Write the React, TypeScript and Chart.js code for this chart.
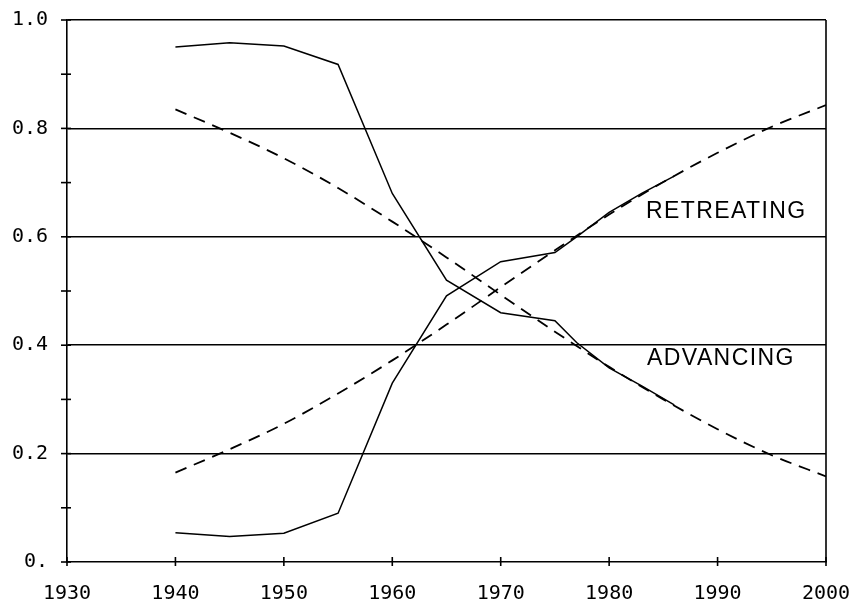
import React, { useEffect, useRef } from "react";
import { Chart, registerables } from "chart.js";

Chart.register(...registerables);

// ---- data ----
const observedYears = [1940, 1945, 1950, 1955, 1960, 1965, 1970, 1975, 1977, 1980, 1983, 1986];
const retreatingObserved = [0.054, 0.047, 0.053, 0.09, 0.33, 0.491, 0.554, 0.571, 0.6, 0.645, 0.68, 0.712];
const advancingObserved = [0.95, 0.958, 0.952, 0.918, 0.68, 0.52, 0.46, 0.445, 0.405, 0.358, 0.325, 0.29];

const fitYears = [1940, 1945, 1950, 1955, 1960, 1965, 1970, 1975, 1980, 1985, 1990, 1995, 2000];
const retreatingFit = [0.165, 0.208, 0.255, 0.311, 0.372, 0.438, 0.507, 0.575, 0.641, 0.701, 0.755, 0.803, 0.843];
const advancingFit = [0.835, 0.792, 0.745, 0.69, 0.628, 0.562, 0.493, 0.425, 0.36, 0.3, 0.245, 0.197, 0.158];

const xTickYears = [1930, 1940, 1950, 1960, 1970, 1980, 1990, 2000];
const yMajorLabels = ["0.", "0.2", "0.4", "0.6", "0.8", "1.0"];

const labelTexts = ["RETREATING", "ADVANCING"];
const labelYears = [1983.4, 1983.5];
const labelValues = [0.646, 0.376];

const X_MIN = 1930;
const X_MAX = 2000;
const Y_MIN = 0;
const Y_MAX = 1;

const toPoints = (xs: number[], ys: number[]) => xs.map((x, i) => ({ x, y: ys[i] }));

const noOverflow = (scale: any) => {
  scale.paddingLeft = 0;
  scale.paddingRight = 0;
  scale.paddingTop = 0;
  scale.paddingBottom = 0;
};

const overlayPlugin = {
  id: "overlay",
  afterDraw(chart: any) {
    const { ctx, scales } = chart;
    const x = scales.x;
    const y = scales.y;
    ctx.save();
    ctx.strokeStyle = "#000";
    ctx.lineWidth = 1.6;
    const seg = (a: number, b: number, c: number, d: number) => {
      ctx.beginPath();
      ctx.moveTo(a, b);
      ctx.lineTo(c, d);
      ctx.stroke();
    };
    // right frame
    const xr = x.getPixelForValue(X_MAX);
    seg(xr, y.getPixelForValue(Y_MIN), xr, y.getPixelForValue(Y_MAX));
    // crossing tick marks
    const x0 = x.getPixelForValue(X_MIN);
    const y0 = y.getPixelForValue(Y_MIN);
    y.ticks.forEach((t: any) => {
      const py = y.getPixelForValue(t.value);
      seg(x0 - 6, py, x0 + 4, py);
    });
    x.ticks.forEach((t: any) => {
      const px = x.getPixelForValue(t.value);
      seg(px, y0 - 5, px, y0 + 4);
    });
    // curve labels
    ctx.fillStyle = "#000";
    ctx.font = "23px 'Liberation Sans'";
    ctx.textAlign = "left";
    ctx.textBaseline = "middle";
    (ctx as any).letterSpacing = "1.4px";
    labelTexts.forEach((txt, i) => {
      ctx.fillText(txt, x.getPixelForValue(labelYears[i]), y.getPixelForValue(labelValues[i]));
    });
    ctx.restore();
  },
};

export default function App() {
  const ref = useRef<HTMLCanvasElement | null>(null);

  useEffect(() => {
    if (!ref.current) return;
    const tickFont = { family: "'DejaVu Sans Mono'", size: 20 };
    const chart = new Chart(ref.current, {
      type: "line",
      data: {
        datasets: [
          {
            data: toPoints(observedYears, retreatingObserved),
            borderColor: "#000",
            borderWidth: 1.5,
            pointRadius: 0,
            tension: 0,
          },
          {
            data: toPoints(observedYears, advancingObserved),
            borderColor: "#000",
            borderWidth: 1.5,
            pointRadius: 0,
            tension: 0,
          },
          {
            data: toPoints(fitYears, retreatingFit),
            borderColor: "#000",
            borderWidth: 1.8,
            borderDash: [12, 8],
            pointRadius: 0,
            cubicInterpolationMode: "monotone",
          },
          {
            data: toPoints(fitYears, advancingFit),
            borderColor: "#000",
            borderWidth: 1.8,
            borderDash: [12, 8],
            pointRadius: 0,
            cubicInterpolationMode: "monotone",
          },
        ],
      },
      options: {
        animation: false,
        responsive: false,
        layout: { padding: { top: 20, right: 30, left: 0, bottom: 0 } },
        plugins: { legend: { display: false }, tooltip: { enabled: false } },
        scales: {
          x: {
            type: "linear",
            min: X_MIN,
            max: X_MAX,
            afterBuildTicks: (scale: any) => {
              scale.ticks = xTickYears.map((v) => ({ value: v }));
            },
            afterFit: (scale: any) => {
              scale.height = 42;
              noOverflow(scale);
            },
            grid: { drawOnChartArea: false, drawTicks: false },
            border: { display: true, color: "#000", width: 1.6 },
            ticks: {
              autoSkip: false,
              maxRotation: 0,
              padding: 20,
              color: "#000",
              font: tickFont,
              callback: (v: any) => String(v),
            },
          },
          y: {
            type: "linear",
            min: Y_MIN,
            max: Y_MAX,
            afterFit: (scale: any) => {
              scale.width = 67;
              noOverflow(scale);
            },
            grid: {
              drawTicks: false,
              lineWidth: 1.6,
              color: (c: any) => {
                const r = Math.round((c.tick?.value ?? 0) * 10);
                return r > 0 && r % 2 === 0 ? "#000" : "rgba(0,0,0,0)";
              },
            },
            border: { display: true, color: "#000", width: 1.6 },
            ticks: {
              stepSize: 0.1,
              autoSkip: false,
              padding: 19,
              color: "#000",
              font: tickFont,
              callback: (v: any) => {
                const r = Math.round(Number(v) * 10);
                return r % 2 === 0 ? yMajorLabels[r / 2] : "";
              },
            },
          },
        },
      },
      plugins: [overlayPlugin],
    } as any);
    return () => chart.destroy();
  }, []);

  return (
    <div style={{ position: "fixed", left: 0, top: 0, width: 856, height: 604, background: "#fff" }}>
      <canvas ref={ref} width={856} height={604} style={{ display: "block" }} />
    </div>
  );
}
